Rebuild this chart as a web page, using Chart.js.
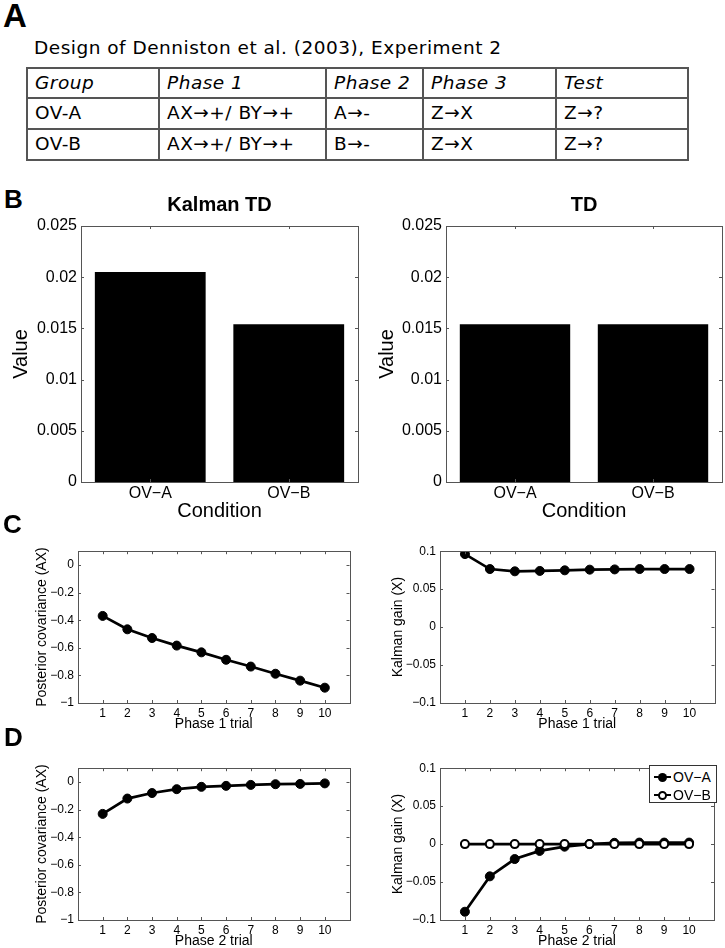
<!DOCTYPE html>
<html>
<head>
<meta charset="utf-8">
<script src="https://cdn.jsdelivr.net/npm/chart.js@4.4.0/dist/chart.umd.min.js"></script>
<style>
  html, body { margin: 0; padding: 0; background: #fff; width: 725px; height: 948px; overflow: hidden; }
  .abs { position: absolute; }
  .letter { font-family: 'Liberation Sans', Arial, sans-serif; font-weight: bold; line-height: 1; }
  .gothic { font-family: 'DejaVu Sans', sans-serif; font-size: 18.5px; letter-spacing: 0.5px; line-height: 1; }
  #design { border-collapse: collapse; table-layout: fixed; }
  #design td { border: 2px solid #555; padding: 0 0 0 7px; height: 29px; white-space: nowrap; }
  #design tr.head td { font-style: italic; height: 28px; }
  #legend { box-sizing: border-box; width: 68px; height: 38px; border: 1px solid #333; background: #fff;
            font-family: 'Liberation Sans', Arial, sans-serif; font-size: 14px; padding-top: 2px; }
  .leg-row { position: relative; height: 18px; line-height: 18px; padding-left: 23px; }
  .leg-row .ln { position: absolute; left: 4px; top: 8px; width: 17px; height: 0; border-top: 2.5px solid #000; }
  .leg-row .dot { position: absolute; left: 8px; top: 5px; width: 9px; height: 9px; border-radius: 50%; box-sizing: border-box; }
  .dot.fill { background: #000; }
  .dot.open { background: #fff; border: 2px solid #000; }
</style>
</head>
<body>

<div class="abs letter" style="left:3px; top:-1px; font-size:33px;">A</div>
<div class="abs gothic" style="left:34px; top:39px;">Design of Denniston et al. (2003), Experiment 2</div>
<table id="design" class="abs gothic" style="left:26px; top:67px; width:661px;">
  <colgroup><col style="width:132px"><col style="width:167px"><col style="width:97px"><col style="width:133px"><col style="width:132px"></colgroup>
  <tr class="head"><td>Group</td><td>Phase 1</td><td>Phase 2</td><td>Phase 3</td><td>Test</td></tr>
  <tr><td>OV-A</td><td>AX→+/ BY→+</td><td>A→-</td><td>Z→X</td><td>Z→?</td></tr>
  <tr><td>OV-B</td><td>AX→+/ BY→+</td><td>B→-</td><td>Z→X</td><td>Z→?</td></tr>
</table>

<div class="abs letter" style="left:4px; top:186px; font-size:26px;">B</div>
<canvas id="kalmanBar" class="abs" width="360" height="341" style="left:0px; top:186px;"></canvas>
<canvas id="tdBar" class="abs" width="365" height="341" style="left:360px; top:186px;"></canvas>

<div class="abs letter" style="left:3px; top:511px; font-size:26px;">C</div>
<canvas id="covP1" class="abs" width="355" height="193" style="left:0px; top:540px;"></canvas>
<canvas id="gainP1" class="abs" width="360" height="193" style="left:360px; top:540px;"></canvas>

<div class="abs letter" style="left:4px; top:724px; font-size:26px;">D</div>
<canvas id="covP2" class="abs" width="355" height="193" style="left:0px; top:757px;"></canvas>
<canvas id="gainP2" class="abs" width="360" height="193" style="left:360px; top:757px;"></canvas>

<div id="legend" class="abs" style="left:649px; top:765px;">
  <div class="leg-row"><i class="ln"></i><i class="dot fill"></i>OV−A</div>
  <div class="leg-row"><i class="ln"></i><i class="dot open"></i>OV−B</div>
</div>

<script>
// valores
const conditions = ['OV−A', 'OV−B'];
const kalmanTD = [0.0205, 0.0154];
const plainTD = [0.0154, 0.0154];
const barTicks = [0, 0.005, 0.01, 0.015, 0.02, 0.025];

const trials = [1, 2, 3, 4, 5, 6, 7, 8, 9, 10];
const covPhase1 = [-0.369, -0.466, -0.529, -0.584, -0.633, -0.687, -0.736, -0.788, -0.838, -0.889];
const gainPhase1 = [0.0962, 0.0765, 0.0735, 0.074, 0.0748, 0.0757, 0.076, 0.0765, 0.0765, 0.0765];
const covPhase2 = [-0.231, -0.12, -0.08, -0.052, -0.035, -0.028, -0.021, -0.016, -0.014, -0.01];
const gainPhase2A = [-0.0891, -0.0425, -0.0197, -0.009, -0.0034, 0, 0.0017, 0.002, 0.002, 0.002];
const gainPhase2B = [0, 0, 0, 0, 0, 0, 0, 0, 0, 0];
const covTicks = [0, -0.2, -0.4, -0.6, -0.8, -1];
const gainTicks = [0.1, 0.05, 0, -0.05, -0.1];

Chart.defaults.font.family = "'Liberation Sans', Arial, sans-serif";
Chart.defaults.color = '#000';
Chart.defaults.animation = false;
Chart.defaults.events = [];

const fmt = v => String(+v.toFixed(4)).replace('-', '\u2212');

// caixa estilo MATLAB com ticks para dentro
const caixaMatlab = {
    id: 'caixa',
    afterDraw(chart, args, opts) {
        const { ctx, chartArea: a, scales } = chart;
        const t = opts.tick || 3;
        ctx.save();
        ctx.strokeStyle = '#555';
        ctx.lineWidth = 1;
        ctx.beginPath();
        scales.x.ticks.forEach((tk, i) => {
            const px = Math.round(scales.x.getPixelForTick(i)) + 0.5;
            ctx.moveTo(px, a.bottom); ctx.lineTo(px, a.bottom - t);
            ctx.moveTo(px, a.top); ctx.lineTo(px, a.top + t);
        });
        scales.y.ticks.forEach(tk => {
            const py = Math.round(scales.y.getPixelForValue(tk.value)) + 0.5;
            ctx.moveTo(a.left, py); ctx.lineTo(a.left + t, py);
            ctx.moveTo(a.right, py); ctx.lineTo(a.right - t, py);
        });
        ctx.stroke();
        ctx.strokeRect(Math.round(a.left) + 0.5, Math.round(a.top) + 0.5,
                       Math.round(a.right - a.left), Math.round(a.bottom - a.top));
        ctx.restore();
    }
};

function graficoBarras(id, titulo, valores, yW, yTitlePad) {
    return new Chart(document.getElementById(id), {
        type: 'bar',
        data: {
            labels: conditions,
            datasets: [{ data: valores, backgroundColor: '#000', barPercentage: 0.8, categoryPercentage: 1 }]
        },
        plugins: [caixaMatlab],
        options: {
            responsive: false,
            layout: { padding: { right: id === 'tdBar' ? 3 : 2 } },
            plugins: {
                legend: { display: false },
                tooltip: { enabled: false },
                title: { display: true, text: titulo, fullSize: false, font: { size: 20, weight: 'bold' },
                         padding: { top: 7, bottom: 9 }, color: '#000' },
                caixa: { tick: 3 }
            },
            scales: {
                x: {
                    grid: { display: false, drawTicks: false }, border: { display: false },
                    ticks: { font: { size: 16 }, padding: 2 },
                    title: { display: true, text: 'Condition', font: { size: 20 }, padding: { top: 0, bottom: 4 } },
                    afterFit: s => { s.height = 45; }
                },
                y: {
                    min: 0, max: 0.025,
                    grid: { display: false, drawTicks: false }, border: { display: false },
                    afterBuildTicks: s => { s.ticks = barTicks.map(v => ({ value: v })); },
                    ticks: { font: { size: 16 }, padding: 4, callback: v => fmt(v) },
                    title: { display: true, text: 'Value', font: { size: 20 }, padding: { top: yTitlePad, bottom: 0 } },
                    afterFit: s => { s.width = yW; }
                }
            }
        }
    });
}

function serie(valores, aberto) {
    return {
        data: trials.map((x, i) => ({ x: x, y: valores[i] })),
        borderColor: '#000',
        borderWidth: 2.7,
        tension: 0,
        pointRadius: aberto ? 4 : 4.5,
        pointBorderWidth: aberto ? 2 : 1,
        pointBackgroundColor: aberto ? '#fff' : '#000',
        pointBorderColor: '#000',
        order: aberto ? 0 : 1
    };
}

function graficoLinhas(id, series, yMin, yMax, yTicks, yTitulo, xTitulo, yW, yTitlePad) {
    return new Chart(document.getElementById(id), {
        type: 'line',
        data: { datasets: series },
        plugins: [caixaMatlab],
        options: {
            responsive: false,
            layout: { padding: { top: 8, right: 3 } },
            plugins: { legend: { display: false }, tooltip: { enabled: false }, caixa: { tick: 3 } },
            scales: {
                x: {
                    type: 'linear', min: 0, max: 11,
                    grid: { display: false, drawTicks: false }, border: { display: false },
                    afterBuildTicks: s => { s.ticks = trials.map(v => ({ value: v })); },
                    ticks: { font: { size: 12 }, padding: 3, maxRotation: 0, autoSkip: false, callback: v => fmt(v) },
                    title: { display: true, text: xTitulo, font: { size: 14 }, padding: { top: 0, bottom: 0.5 } },
                    afterFit: s => { s.height = 30; }
                },
                y: {
                    min: yMin, max: yMax,
                    grid: { display: false, drawTicks: false }, border: { display: false },
                    afterBuildTicks: s => { s.ticks = yTicks.map(v => ({ value: v })); },
                    ticks: { font: { size: 12 }, padding: 4, autoSkip: false, callback: v => fmt(v) },
                    title: { display: true, text: yTitulo, font: { size: 14 }, padding: { top: yTitlePad, bottom: 0 } },
                    afterFit: s => { s.width = yW; }
                }
            }
        }
    });
}

graficoBarras('kalmanBar', 'Kalman TD', kalmanTD, 81, 9);
graficoBarras('tdBar', 'TD', plainTD, 86, 15);

graficoLinhas('covP1', [serie(covPhase1, false)], -1, 0.1, covTicks,
              'Posterior covariance (AX)', 'Phase 1 trial', 78, 33.6);
graficoLinhas('gainP1', [serie(gainPhase1, false)], -0.1, 0.1, gainTicks,
              'Kalman gain (X)', 'Phase 1 trial', 80, 29.6);
graficoLinhas('covP2', [serie(covPhase2, false)], -1, 0.1, covTicks,
              'Posterior covariance (AX)', 'Phase 2 trial', 78, 33.6);
graficoLinhas('gainP2', [serie(gainPhase2A, false), serie(gainPhase2B, true)], -0.1, 0.1, gainTicks,
              'Kalman gain (X)', 'Phase 2 trial', 80, 29.6);
</script>
</body>
</html>
